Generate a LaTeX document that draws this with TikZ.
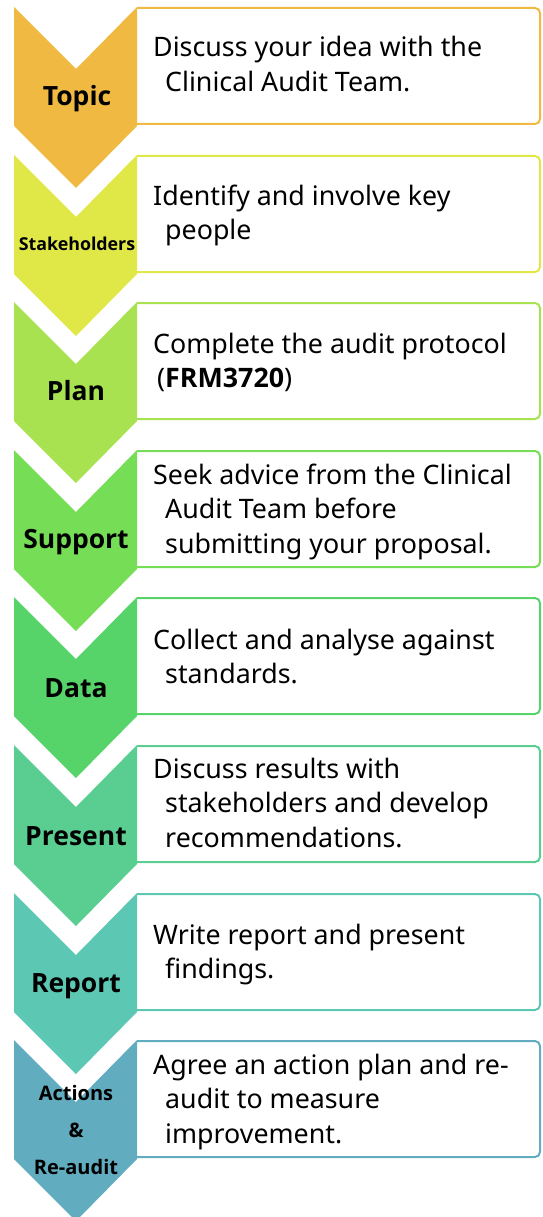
\documentclass[tikz,border=0pt]{standalone}
\usepackage{fontspec}
\setmainfont{Noto Sans}
\newfontfamily\lblfont{Open Sans}
\definecolor{c1}{RGB}{240,185,65}
\definecolor{c2}{RGB}{224,232,72}
\definecolor{c3}{RGB}{168,226,80}
\definecolor{c4}{RGB}{118,222,86}
\definecolor{c5}{RGB}{86,212,106}
\definecolor{c6}{RGB}{90,205,145}
\definecolor{c7}{RGB}{92,200,180}
\definecolor{c8}{RGB}{98,172,192}
\newcommand{\chev}[2]{% top y, colour
  \fill[#2] (14,#1) -- (76,#1+62) -- (137,#1) -- (137,#1+119) -- (76,#1+181) -- (14,#1+119) -- cycle;}
\newcommand{\stepframe}[2]{% top y, colour
  \draw[#2, line width=2pt, rounded corners=5pt] (137,#1+1) -- (540,#1+1) -- (540,#1+117) -- (137,#1+117);}
\newcommand{\btext}[1]{\parbox[t]{385pt}{\fontsize{26.8pt}{34.5pt}\selectfont\raggedright #1}}
\newcommand{\ind}{\hspace*{12pt}}
\tikzset{
  label/.style={anchor=base, inner sep=0pt, font=\fontsize{26.5pt}{30pt}\selectfont\lblfont\bfseries},
  smalllabel/.style={anchor=base, inner sep=0pt, font=\fontsize{20pt}{24pt}\selectfont\lblfont\bfseries},
  body/.style={anchor=base west, inner sep=0pt}
}
\begin{document}
\begin{tikzpicture}[x=1pt,y=-1pt]
\useasboundingbox (0,0) rectangle (542,1217);
% step 1
\stepframe{7}{c1}\chev{7}{c1}
\node[label] (l1) at (77,106) {Topic};
\node[body] (t1) at (153,57) {\btext{Discuss your idea with the\\\ind Clinical Audit Team.}};
% step 2
\stepframe{155}{c2}\chev{155}{c2}
\node[label, font=\fontsize{17.8pt}{20pt}\selectfont\lblfont\bfseries] (l2) at (77,250) {Stakeholders};
\node[body] (t2) at (153,205) {\btext{Identify and involve key\\\ind people}};
% step 3
\stepframe{302}{c3}\chev{302}{c3}
\node[label] (l3) at (76,400) {Plan};
\node[body] (t3) at (153,353) {\btext{Complete the audit protocol\\\hspace*{4pt}({\lblfont\bfseries FRM3720})}};
% step 4
\stepframe{450}{c4}\chev{450}{c4}
\node[label] (l4) at (76,548) {Support};
\node[body] (t4) at (153,484) {\btext{Seek advice from the Clinical\\\ind Audit Team before\\\ind submitting your proposal.}};
% step 5
\stepframe{597}{c5}\chev{597}{c5}
\node[label] (l5) at (76,697) {Data};
\node[body] (t5) at (153,649) {\btext{Collect and analyse against\\\ind standards.}};
% step 6
\stepframe{745}{c6}\chev{745}{c6}
\node[label] (l6) at (76,845) {Present};
\node[body] (t6) at (153,778) {\btext{Discuss results with\\\ind stakeholders and develop\\\ind recommendations.}};
% step 7
\stepframe{893}{c7}\chev{893}{c7}
\node[label] (l7) at (76,992) {Report};
\node[body] (t7) at (153,944) {\btext{Write report and present\\\ind findings.}};
% step 8
\stepframe{1040}{c8}\chev{1040}{c8}
\node[smalllabel] (l8a) at (76,1100) {Actions};
\node[smalllabel] (l8b) at (76,1137) {\&};
\node[smalllabel] (l8c) at (76,1174) {Re-audit};
\node[body] (t8) at (153,1074) {\btext{Agree an action plan and re-\\\ind audit to measure\\\ind improvement.}};
\end{tikzpicture}
\end{document}
